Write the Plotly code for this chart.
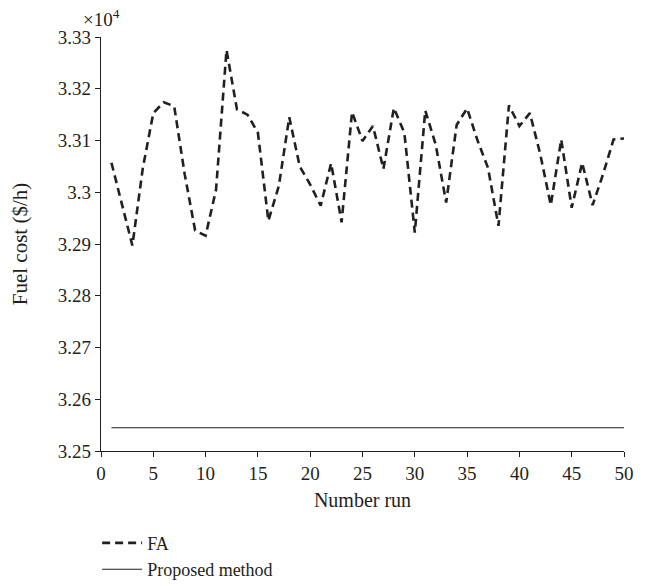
import plotly.graph_objects as go

runs = list(range(1, 51))
# Fuel cost in units of 10^4 $/h
fa_cost = [3.3057, 3.2975, 3.2897, 3.3047, 3.3153, 3.3174, 3.3166, 3.3035, 3.2926, 3.2916,
           3.3005, 3.3275, 3.3160, 3.3150, 3.3115, 3.2945, 3.3012, 3.3145, 3.3050, 3.3015,
           3.2974, 3.3056, 3.2942, 3.3155, 3.3099, 3.3128, 3.3045, 3.3163, 3.3115, 3.2922,
           3.3158, 3.3092, 3.2980, 3.3130, 3.3162, 3.3100, 3.3047, 3.2935, 3.3168, 3.3128,
           3.3153, 3.3073, 3.2975, 3.3102, 3.2970, 3.3057, 3.2975, 3.3035, 3.3102, 3.3104]
proposed_cost = [3.2545] * 50

y_ticks = [3.25, 3.26, 3.27, 3.28, 3.29, 3.30, 3.31, 3.32, 3.33]
y_tick_text = ["3.25", "3.26", "3.27", "3.28", "3.29", "3.3", "3.31", "3.32", "3.33"]
x_ticks = [0, 5, 10, 15, 20, 25, 30, 35, 40, 45, 50]

font_family = "Liberation Serif"
ink = "#231f20"

fig = go.Figure()
fig.add_trace(go.Scatter(x=runs, y=fa_cost, mode="lines", name="FA",
                         line=dict(color=ink, width=2.6, dash="8px,5px")))
fig.add_trace(go.Scatter(x=runs, y=proposed_cost, mode="lines", name="Proposed method",
                         line=dict(color=ink, width=1.1)))

fig.update_layout(
    width=664, height=586,
    margin=dict(l=93, r=48, t=29, b=142.5, autoexpand=False),
    paper_bgcolor="white", plot_bgcolor="white",
    font=dict(family=font_family, size=19, color=ink),
    showlegend=True,
    legend=dict(x=-0.0074, y=-0.178, xanchor="left", yanchor="top",
                orientation="v", font=dict(size=18, family=font_family, color=ink),
                bgcolor="rgba(0,0,0,0)", tracegroupgap=0, itemwidth=40),
    xaxis=dict(range=[0, 50], tickvals=x_ticks, showgrid=False, zeroline=False,
               showline=True, linecolor=ink, linewidth=1.2, ticks="outside",
               ticklen=5, tickcolor=ink, tickfont=dict(size=19),
               title=dict(text="Number run", font=dict(size=20), standoff=10)),
    yaxis=dict(range=[3.25, 3.33], tickvals=y_ticks, ticktext=y_tick_text,
               showgrid=False, zeroline=False, showline=True, linecolor=ink,
               linewidth=1.2, ticks="outside", ticklen=5, tickcolor=ink,
               tickfont=dict(size=19),
               title=dict(text="Fuel cost ($/h)", font=dict(size=21), standoff=30)),
    annotations=[dict(text="×10<sup>4</sup>", x=0, y=1, xref="paper", yref="paper",
                      xanchor="center", yanchor="bottom", yshift=5, showarrow=False,
                      font=dict(size=19, family=font_family, color=ink))],
)

fig.write_html("out.html")
